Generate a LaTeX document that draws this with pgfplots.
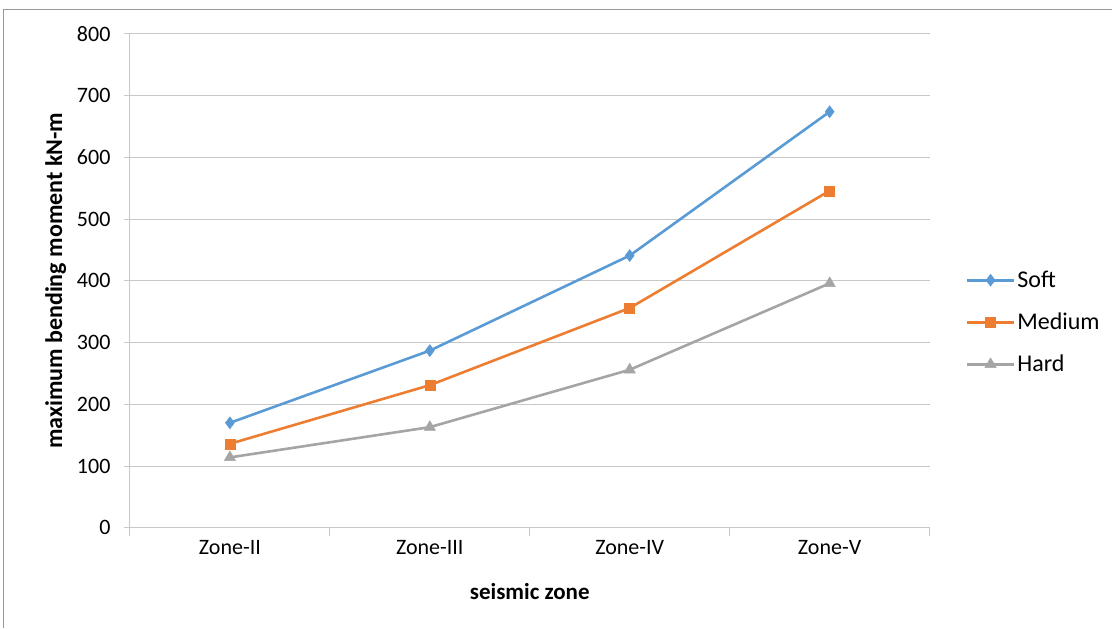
\documentclass[border=0pt]{standalone}
\usepackage{pgfplots}
\pgfplotsset{compat=1.18}
\usepackage{fontspec}
\setmainfont{Carlito}
\definecolor{cSoft}{HTML}{5B9BD5}
\definecolor{cMed}{HTML}{ED7D31}
\definecolor{cHard}{HTML}{A5A5A5}
\definecolor{gridc}{HTML}{C8C8C8}
\begin{document}
\begin{tikzpicture}[x=1pt,y=1pt]
\path (0,0) rectangle (1112,628);
\draw[color=gray!80, line width=1pt] (4,0) -- (4,618) -- (1112,618);
\begin{axis}[
  at={(130pt,100pt)}, anchor=south west,
  scale only axis, width=800pt, height=494pt,
  xmin=-0.5, xmax=3.5, ymin=0, ymax=800,
  xtick={0,1,2,3},
  xticklabels={Zone-II,Zone-III,Zone-IV,Zone-V},
  minor xtick={-0.5,0.5,1.5,2.5,3.5},
  ytick={0,100,...,800},
  major x tick style={draw=none},
  minor tick length=8pt,
  major tick length=6pt,
  tick align=outside,
  tick style={color=gridc, line width=1pt},
  ymajorgrids, grid style={color=gridc, line width=1pt},
  axis x line*=bottom, axis y line*=left,
  axis line style={color=gridc, line width=1pt, -},
  x tick label style={font=\fontsize{22}{26}\selectfont, yshift=-3pt},
  y tick label style={font=\fontsize{22}{26}\selectfont, xshift=-10pt},
  /pgf/number format/assume math mode=true,
  xlabel={\textbf{seismic zone}},
  ylabel={\textbf{maximum bending moment kN-m}},
  xlabel style={font=\fontsize{23}{26}\selectfont, yshift=-22pt},
  ylabel style={font=\fontsize{24}{28}\selectfont, yshift=4pt},
  legend style={at={(1.045,0.416)}, anchor=west, draw=none, fill=none,
     font=\fontsize{24}{28}\selectfont, row sep=20pt, inner sep=0pt},
  legend cell align=left,
  legend image code/.code={\draw[mark repeat=2,mark phase=2] plot coordinates {(0pt,0pt) (23.5pt,0pt) (47pt,0pt)};},
  every axis plot/.append style={line width=2.6pt},
]
\addplot[color=cSoft, mark=diamond*, mark size=6pt, mark options={line width=0.5pt}] coordinates {(0,170) (1,287) (2,441) (3,674)};
\addlegendentry{Soft}
\addplot[color=cMed, mark=square*, mark size=5pt, mark options={line width=0.5pt}] coordinates {(0,136) (1,231) (2,356) (3,546)};
\addlegendentry{Medium}
\addplot[color=cHard, mark=triangle*, mark size=6.5pt, mark options={line width=0.5pt}] coordinates {(0,114) (1,163) (2,256) (3,396)};
\addlegendentry{Hard}
\end{axis}
\end{tikzpicture}
\end{document}
